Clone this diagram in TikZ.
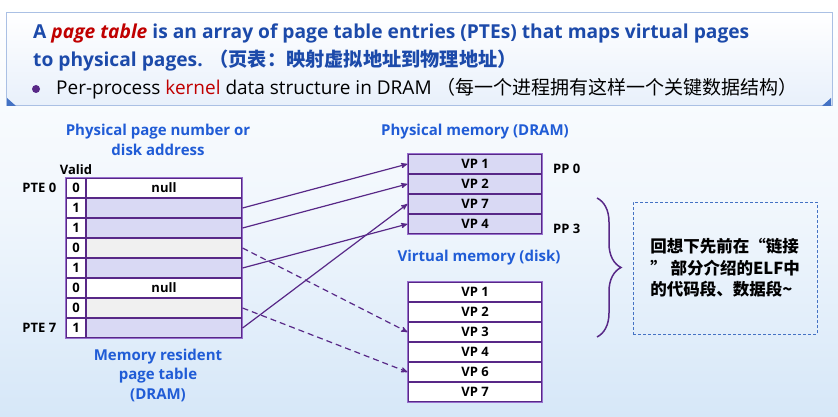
\documentclass[tikz,border=0pt]{standalone}
\usepackage{fontspec}
\setmainfont{Open Sans}
\newfontfamily\cjk{Noto Sans CJK SC}
\usetikzlibrary{positioning,arrows,decorations.pathreplacing}
\definecolor{titleblue}{RGB}{28,74,170}
\definecolor{lblblue}{RGB}{32,92,214}
\definecolor{hlred}{RGB}{192,0,0}
\definecolor{tabline}{RGB}{88,40,135}
\definecolor{tabborder}{RGB}{150,110,205}
\definecolor{vpfill}{RGB}{217,217,244}
\definecolor{diskfill}{RGB}{240,240,240}
\definecolor{bgblue}{RGB}{214,231,248}
\definecolor{boxline}{RGB}{170,192,228}
\definecolor{notebl}{RGB}{68,114,196}

\begin{document}
\begin{tikzpicture}[x=1pt,y=-1pt,
  every node/.style={inner sep=0pt},
  cell/.style={draw=tabline,line width=1.1pt,minimum height=20pt,font=\fontsize{13}{15}\selectfont\bfseries},
  validcell/.style={cell,fill=white,minimum width=20pt},
  ptecell/.style={cell,minimum width=156pt},
  memcell/.style={cell,minimum width=134pt},
  lbl/.style={text=lblblue,font=\fontsize{15}{19.5}\selectfont\bfseries,align=center},
  tag/.style={font=\fontsize{13}{15}\selectfont\bfseries},
  ptr/.style={->,>=stealth',draw=tabline,line width=1.2pt},
  swp/.style={ptr,dash pattern=on 6pt off 4pt}]
  \useasboundingbox (0,0) rectangle (838,417);
  \shade[top color=white,bottom color=bgblue,middle color=bgblue!35] (0,0) rectangle (838,417);

  % heading box
  \shade[top color=white,bottom color={rgb,255:red,232;green,240;blue,251},draw=boxline,line width=1pt] (6,13) rectangle (832,106);
  \fill[notebl] (7,98) -- (7,106) -- (16,106) -- cycle;
  \fill[notebl] (831,98) -- (831,106) -- (822,106) -- cycle;
  \node[anchor=base west,text=titleblue,font=\fontsize{19.2}{22}\selectfont\bfseries] (line1) at (33,39)
    {A \textcolor{hlred}{\itshape page table} is an array of page table entries (PTEs) that maps virtual pages};
  \node[anchor=base west,text=titleblue,font=\fontsize{19.2}{22}\selectfont\bfseries] (line2) at (33,67)
    {to physical pages. {\cjk （页表：映射虚拟地址到物理地址）}};
  \fill[tabline] (36,89) circle (4pt);
  \node[anchor=base west,font=\fontsize{19}{22}\selectfont] (line3) at (56,95)
    {Per-process \textcolor{hlred}{kernel} data structure in DRAM {\cjk （每一个进程拥有这样一个关键数据结构）}};

  % page table
  \foreach \i/\v/\f/\t in {0/0/white/null,1/1/vpfill/,2/1/vpfill/,3/0/diskfill/,
                           4/1/vpfill/,5/0/white/null,6/0/diskfill/,7/1/vpfill/} {
    \node[validcell] (v\i) at (76,188+20*\i) {\v};
    \node[ptecell,fill=\f] (e\i) at (164,188+20*\i) {\t};
  }
  \draw[tabborder,line width=1.4pt] (v0.north west) rectangle (e7.south east);
  \node[tag,above=3pt of v0] (valid) {Valid};
  \node[tag,left=9pt of v0] (pte0) {PTE 0};
  \node[tag,left=9pt of v7] (pte7) {PTE 7};
  \node[lbl] (ppn) at (158,140) {Physical page number or\\disk address};
  \node[lbl] (mrpt) at (158,375) {Memory resident\\page table\\(DRAM)};

  % physical memory
  \foreach \k/\t in {1/VP 1,2/VP 2,3/VP 7,4/VP 4}
    \node[memcell,fill=vpfill] (pm\k) at (475,144+20*\k) {\t};
  \draw[tabborder,line width=1.4pt] (pm1.north west) rectangle (pm4.south east);
  \node[lbl] (pmlbl) at (475,132) {Physical memory (DRAM)};
  \node[tag,anchor=west] (pp0) at (553,169) {PP 0};
  \node[tag,anchor=west] (pp3) at (553,229) {PP 3};

  % disk
  \foreach \k/\t in {1/VP 1,2/VP 2,3/VP 3,4/VP 4,5/VP 6,6/VP 7}
    \node[memcell,fill=white] (d\k) at (475,272+20*\k) {\t};
  \draw[tabborder,line width=1.4pt] (d1.north west) rectangle (d6.south east);
  \node[lbl] (vmlbl) at (479,258) {Virtual memory (disk)};

  % mappings
  \draw[ptr] (e1.east) -- (pm1.west);
  \draw[ptr] (e2.east) -- (pm2.west);
  \draw[ptr] (e4.east) -- (pm4.west);
  \draw[ptr] (e7.east) -- (pm3.west);
  \draw[swp] (e3.east) -- (d3.west);
  \draw[swp] (e6.east) -- (d5.west);

  % note
  \coordinate (bt) at (597,198);
  \coordinate (bb) at (597,337);
  \draw[tabline,line width=1.5pt,decorate,decoration={brace,amplitude=24pt}] (bt) -- (bb);
  \node[draw=notebl,line width=1pt,dash pattern=on 3pt off 2pt,minimum width=184pt,minimum height=132pt,
        align=left,font=\cjk\fontsize{16.5}{21.5}\selectfont\bfseries] (note) at (725,268)
    {回想下先前在“链接\\” 部分介绍的ELF中\\的代码段、数据段\textasciitilde};
\end{tikzpicture}
\end{document}
